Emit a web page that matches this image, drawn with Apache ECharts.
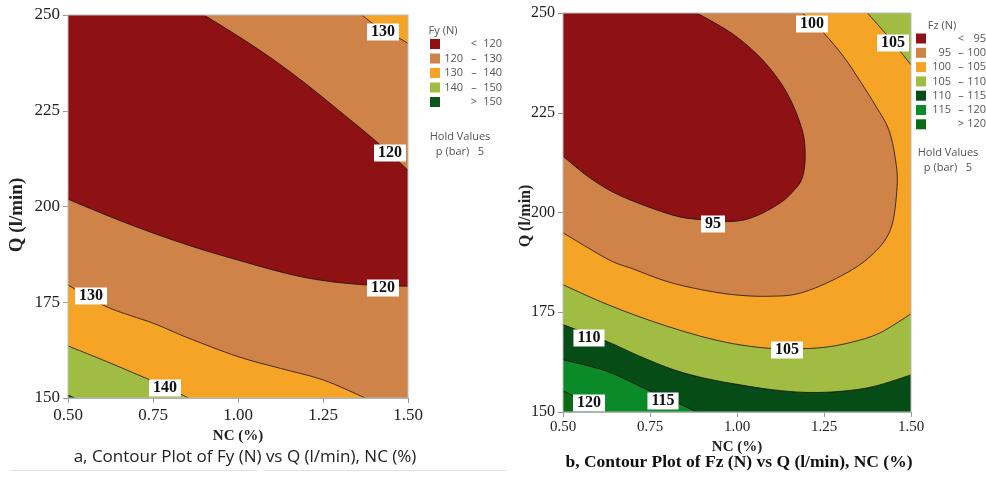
<!DOCTYPE html>
<html><head><meta charset="utf-8">
<script src="https://cdn.jsdelivr.net/npm/echarts/dist/echarts.min.js"></script>
<style>html,body{margin:0;padding:0;background:#fff}#c{width:986px;height:477px}</style>
</head><body><div id="c"></div>
<script>
// ---------- axes ----------
const ncMin = 0.5, ncMax = 1.5, ncStep = 0.25;
const qMin = 150, qMax = 250, qStep = 25;

// ---------- Fy (left) contour curves [NC, Q] ----------
const fyC130a = [[1.364,250],[1.40,247.6],[1.45,245.2],[1.5,242.6]];
const fyC120a = [[0.90,250],[1.0,244.5],[1.1,238.6],[1.2,232.0],[1.3,224.8],[1.4,217.5],[1.5,209.5]];
const fyC120b = [[0.5,201.9],[0.6,198.2],[0.7,194.7],[0.8,191.5],[0.9,188.6],[1.0,186.0],[1.1,183.5],[1.2,181.4],[1.3,180.1],[1.4,179.4],[1.5,179.2]];
const fyC130b = [[0.5,179.5],[0.614,173.8],[0.751,169.5],[0.85,165.8],[1.0,160.8],[1.126,157.7],[1.251,154.7],[1.374,150]];
const fyC140 = [[0.5,163.6],[0.614,159.5],[0.731,155.1],[0.80,152.4],[0.854,150]];
const fyC150 = [[0.5,150.8],[0.52,150]];
const fyLabels = [[1.426,245.6,'130'],[1.447,214.0,'120'],[1.427,178.8,'120'],[0.567,176.7,'130'],[0.785,152.7,'140']];

// ---------- Fz (right) contour curves [NC, Q] ----------
const fzC95 = [[0.885,250],[0.99,244.6],[1.077,237.9],[1.144,229.9],[1.187,220.8],[1.196,214.1],[1.187,208.5],[1.158,205.0],[1.124,202.4],[1.06,199.3],[0.995,197.8],[0.899,198.2],[0.813,199.4],[0.67,204.0],[0.58,208.5],[0.5,214.1]];
const fzC100 = [[1.188,250],[1.249,245],[1.306,239.1],[1.354,232.9],[1.400,226.5],[1.436,220.8],[1.455,213.5],[1.460,206.5],[1.441,195.7],[1.383,189.0],[1.297,184.0],[1.182,179.8],[1.086,179.0],[0.990,179.4],[0.895,180.7],[0.799,182.7],[0.703,185.8],[0.631,188.2],[0.5,194.9]];
const fzC105a = [[1.375,250],[1.44,243.5],[1.5,237.0]];
const fzC105b = [[0.5,181.9],[0.607,177.7],[0.703,174.4],[0.799,171.5],[0.895,169.0],[0.990,167.1],[1.086,166.0],[1.16,165.8],[1.25,166.2],[1.33,167.5],[1.41,169.8],[1.5,174.6]];
const fzC110 = [[0.5,171.9],[0.626,167.7],[0.72,164.0],[0.818,160.6],[0.91,158.4],[1.009,156.8],[1.10,155.6],[1.201,154.9],[1.30,155.2],[1.393,156.4],[1.5,159.3]];
const fzC115 = [[0.5,163.1],[0.626,160.2],[0.741,155.6],[0.82,152.6],[0.885,150]];
const fzC120 = [[0.5,155.3],[0.53,153.9],[0.58,150]];
const fzLabels = [[1.216,247.3,'100'],[1.447,242.6,'105'],[0.930,197.2,'95'],[1.144,165.6,'105'],[0.574,168.5,'110'],[0.787,152.7,'115'],[0.574,152.3,'120']];

// ---------- legends ----------
const fyLegLow = ['', '120', '130', '140', ''];
const fyLegOp = ['<', '–', '–', '–', '>'];
const fyLegHigh = ['120', '130', '140', '150', '150'];
const fzLegLow = ['', '95', '100', '105', '110', '115', ''];
const fzLegOp = ['<', '–', '–', '–', '–', '–', '>'];
const fzLegHigh = ['95', '100', '105', '110', '115', '120', '120'];

// ---------- colours ----------
const C = {red:'#8e1214', brown:'#d08349', orange:'#f6a425', lgreen:'#a0bc42', dgreen:'#054c16', bgreen:'#0a8a29', g120:'#0b6b12', g150:'#0b5619'};
const fyColors = [C.red, C.brown, C.orange, C.lgreen, C.g150];
const fzColors = [C.red, C.brown, C.orange, C.lgreen, C.dgreen, C.bgreen, C.g120];

const rev = a => a.slice().reverse();
const corners = {bl:[ncMin,qMin], br:[ncMax,qMin], tr:[ncMax,qMax], tl:[ncMin,qMax]};

// regions: sequences of pieces {p: straight points} / {c: smooth contour curve}
const fyRegions = [
  {color:C.orange, parts:[{p:[corners.bl, corners.br, corners.tr, corners.tl]}]},
  {color:C.brown, parts:[{p:[corners.tl]}, {c:fyC130a}, {p:[corners.br]}, {c:rev(fyC130b)}]},
  {color:C.red, parts:[{p:[corners.tl]}, {c:fyC120a}, {c:rev(fyC120b)}]},
  {color:C.lgreen, parts:[{c:fyC140}, {p:[corners.bl]}]},
  {color:C.g150, parts:[{c:fyC150}, {p:[corners.bl]}]}
];
const fyLines = [fyC130a, fyC120a, fyC120b, fyC130b, fyC140, fyC150];

const fzRegions = [
  {color:C.lgreen, parts:[{p:[corners.bl, corners.br, corners.tr, corners.tl]}]},
  {color:C.orange, parts:[{p:[corners.tl]}, {c:fzC105a}, {c:rev(fzC105b)}]},
  {color:C.brown, parts:[{p:[corners.tl]}, {c:fzC100}]},
  {color:C.red, parts:[{p:[corners.tl]}, {c:fzC95}]},
  {color:C.dgreen, parts:[{c:fzC110}, {p:[corners.br, corners.bl]}]},
  {color:C.bgreen, parts:[{c:fzC115}, {p:[corners.bl]}]},
  {color:C.g120, parts:[{c:fzC120}, {p:[corners.bl]}]}
];
const fzLines = [fzC95, fzC100, fzC105a, fzC105b, fzC110, fzC115, fzC120];

const serif = '"Liberation Serif","Times New Roman",serif';
const sans = '"Open Sans","Noto Sans",sans-serif';

// smooth (Catmull-Rom -> cubic Bezier) path through pixel points
function curveSeg(P) {
  let d = '';
  for (let i = 0; i < P.length - 1; i++) {
    const p0 = P[i-1] || P[i], p1 = P[i], p2 = P[i+1], p3 = P[i+2] || P[i+1];
    const c1 = [p1[0] + (p2[0]-p0[0])/6, p1[1] + (p2[1]-p0[1])/6];
    const c2 = [p2[0] - (p3[0]-p1[0])/6, p2[1] - (p3[1]-p1[1])/6];
    d += ` C${c1[0]} ${c1[1]} ${c2[0]} ${c2[1]} ${p2[0]} ${p2[1]}`;
  }
  return d;
}
function regionPath(api, parts) {
  let d = '', started = false;
  parts.forEach(part => {
    if (part.p) {
      part.p.forEach(pt => { const q = api.coord(pt); d += (started ? ' L' : 'M') + q[0] + ' ' + q[1]; started = true; });
    } else {
      const P = part.c.map(pt => api.coord(pt));
      d += (started ? ' L' : 'M') + P[0][0] + ' ' + P[0][1]; started = true;
      d += curveSeg(P);
    }
  });
  return d + ' Z';
}

function fillSeries(idx, regions) {
  return {
    type:'custom', xAxisIndex:idx, yAxisIndex:idx, z:1, silent:true, animation:false, clip:true,
    data: regions.map((r,i)=>[i]),
    renderItem: (params, api) => {
      const r = regions[params.dataIndex];
      return {type:'path', shape:{pathData: regionPath(api, r.parts)}, style:{fill:r.color, stroke:null}};
    }
  };
}
function lineSeries(idx, lines) {
  return {
    type:'custom', xAxisIndex:idx, yAxisIndex:idx, z:2, silent:true, animation:false, clip:true,
    data: lines.map((l,i)=>[i]),
    renderItem: (params, api) => {
      const P = lines[params.dataIndex].map(p=>api.coord(p));
      return {type:'path', shape:{pathData: 'M' + P[0][0] + ' ' + P[0][1] + curveSeg(P)},
        style:{stroke:'rgba(20,10,5,0.85)', lineWidth:0.9, fill:null}};
    }
  };
}
function labelSeries(idx, labels) {
  return {
    type:'custom', xAxisIndex:idx, yAxisIndex:idx, z:4, silent:true, animation:false, clip:false,
    data: labels,
    renderItem: (params, api) => {
      const l = labels[params.dataIndex];
      const pt = api.coord([l[0], l[1]]);
      return {type:'text', x:Math.round(pt[0]), y:Math.round(pt[1]), style:{
        text:l[2], font:'bold 16px '+serif, fill:'#111', align:'center', verticalAlign:'middle',
        backgroundColor:'#ffffff', padding:[1,4,0,4]}};
    }
  };
}
function xAx(idx, labelSize, gap, margin) {
  return {gridIndex:idx, type:'value', min:ncMin, max:ncMax, interval:ncStep,
    name:'NC (%)', nameLocation:'middle', nameGap:gap,
    nameTextStyle:{fontFamily:serif, fontWeight:'bold', fontSize:15, color:'#222'},
    axisLine:{show:true, onZero:false, lineStyle:{color:'#aaa'}},
    axisTick:{show:true, length:5, lineStyle:{color:'#999'}},
    axisLabel:{formatter:v=>v.toFixed(2), fontFamily:serif, fontSize:labelSize, color:'#222', margin:margin},
    splitLine:{show:false}};
}
function yAx(idx, labelSize) {
  return {gridIndex:idx, type:'value', min:qMin, max:qMax, interval:qStep,
    axisLine:{show:true, onZero:false, lineStyle:{color:'#aaa'}},
    axisTick:{show:true, length:5, lineStyle:{color:'#999'}},
    axisLabel:{fontFamily:serif, fontSize:labelSize, color:'#222', margin:8},
    splitLine:{show:false}};
}

const graphics = [];
function legend(x0, swX, yTitle, y0, step, title, lows, ops, highs, colors, lowRight, opX, highRight, holdX, holdY) {
  const f = '11px ' + sans, col = '#555';
  graphics.push({type:'text', x:x0, y:yTitle, style:{text:title, font:f, fill:col, align:'center', verticalAlign:'middle'}});
  colors.forEach((c,i)=>{
    const y = y0 + i*step;
    graphics.push({type:'rect', shape:{x:swX, y:y-5, width:10, height:10}, style:{fill:c}});
    if (lows[i]) graphics.push({type:'text', x:lowRight, y:y, style:{text:lows[i], font:f, fill:col, align:'right', verticalAlign:'middle'}});
    graphics.push({type:'text', x:opX, y:y, style:{text:ops[i], font:f, fill:col, align:'center', verticalAlign:'middle'}});
    graphics.push({type:'text', x:highRight, y:y, style:{text:highs[i], font:f, fill:col, align:'right', verticalAlign:'middle'}});
  });
  graphics.push({type:'text', x:holdX, y:holdY, style:{text:'Hold Values', font:f, fill:col, align:'center', verticalAlign:'middle'}});
  graphics.push({type:'text', x:holdX, y:holdY+15, style:{text:'p (bar)   5', font:f, fill:col, align:'center', verticalAlign:'middle'}});
}
legend(443, 430, 31, 44, 14.5, 'Fy (N)', fyLegLow, fyLegOp, fyLegHigh, fyColors, 463, 474, 502, 460, 137);
legend(942, 916, 26, 38.5, 14.3, 'Fz (N)', fzLegLow, fzLegOp, fzLegHigh, fzColors, 951, 961, 986, 948, 153);
// rotated axis names
graphics.push({type:'text', x:17, y:215, rotation:Math.PI/2, style:{text:'Q (l/min)', font:'bold 19px '+serif, fill:'#222', align:'center', verticalAlign:'middle'}});
graphics.push({type:'text', x:526, y:216, rotation:Math.PI/2, style:{text:'Q (l/min)', font:'bold 16px '+serif, fill:'#222', align:'center', verticalAlign:'middle'}});
graphics.push({type:'text', x:245, y:457, style:{text:'a, Contour Plot of Fy (N) vs Q (l/min), NC (%)', font:'17px '+sans, fill:'#222', align:'center', verticalAlign:'middle'}});
graphics.push({type:'text', x:739, y:462, style:{text:'b, Contour Plot of Fz (N) vs Q (l/min), NC (%)', font:'bold 17.5px '+serif, fill:'#111', align:'center', verticalAlign:'middle'}});
graphics.push({type:'line', shape:{x1:10, y1:470.5, x2:257, y2:470.5}, style:{stroke:'#e2e2e2', lineWidth:1}});
graphics.push({type:'line', shape:{x1:263, y1:470.5, x2:507, y2:470.5}, style:{stroke:'#e2e2e2', lineWidth:1}});

const chart = echarts.init(document.getElementById('c'), null, {renderer:'canvas'});
chart.setOption({
  animation:false,
  backgroundColor:'#fff',
  grid:[
    {left:68, top:15, width:340, height:383, show:true, borderColor:'#bbb', borderWidth:1, backgroundColor:'transparent', z:5},
    {left:563, top:13, width:348, height:399, show:true, borderColor:'#bbb', borderWidth:1, backgroundColor:'transparent', z:5}
  ],
  xAxis:[xAx(0, 17, 27, 9), xAx(1, 15, 24, 8)],
  yAxis:[yAx(0, 17), yAx(1, 16)],
  series:[
    fillSeries(0, fyRegions), lineSeries(0, fyLines), labelSeries(0, fyLabels),
    fillSeries(1, fzRegions), lineSeries(1, fzLines), labelSeries(1, fzLabels)
  ],
  graphic: graphics
});
</script></body></html>
